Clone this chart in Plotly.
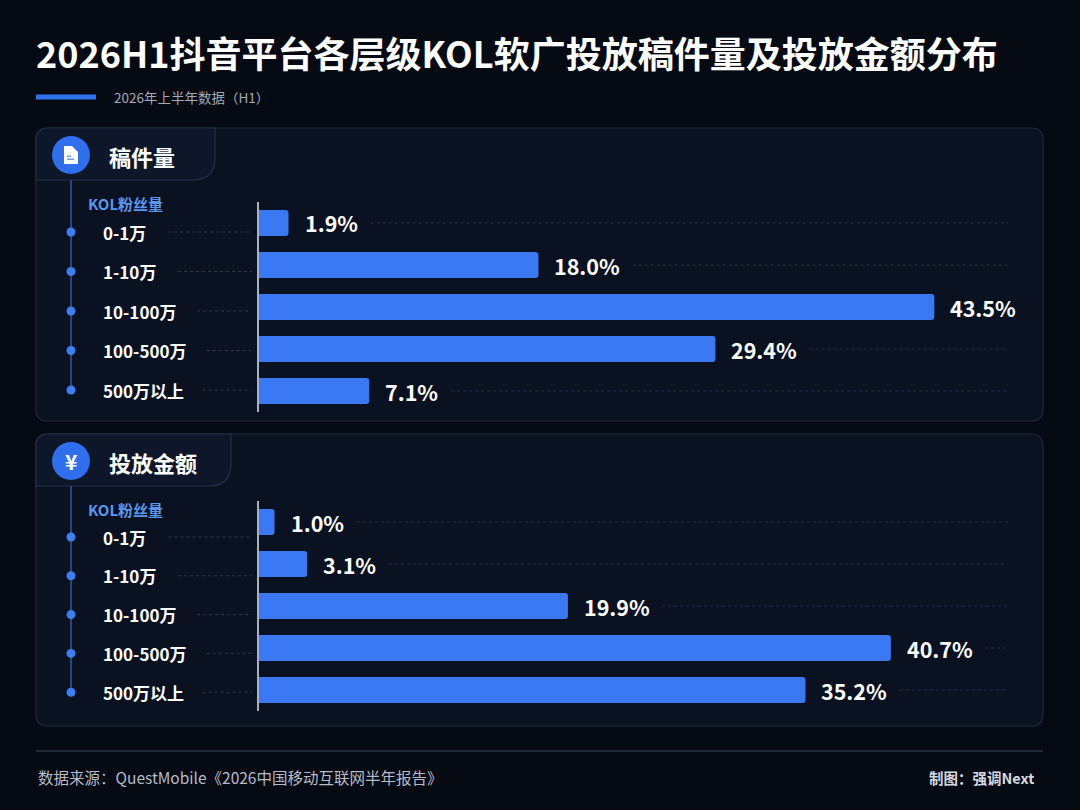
import plotly.graph_objects as go

# data
categories = ["0-1万", "1-10万", "10-100万", "100-500万", "500万以上"]
share_count = [1.9, 18.0, 43.5, 29.4, 7.1]      # 稿件量 %
share_amount = [1.0, 3.1, 19.9, 40.7, 35.2]     # 投放金额 %
panel_titles = ["稿件量", "投放金额"]
axis_title = "KOL粉丝量"
title = "2026H1抖音平台各层级KOL软广投放稿件量及投放金额分布"
subtitle = "2026年上半年数据（H1）"
source = "数据来源：QuestMobile《2026中国移动互联网半年报告》"
credit = "制图：强调Next"

W, H = 1080, 810
FONT = "Noto Sans CJK SC"
BG = "#060a12"
PANEL = "#0a1120"
TAB = "#0e1729"
BORDER = "#1f2b40"
BLUE = "#3a79f2"
XMAX = 50.5
BAR_X0 = 259   # px where bars start
BAR_X1 = 1043


def X(px):
    return px / W


def Y(py):
    return 1 - py / H


def text_w(s, f):
    return sum(f if ord(c) > 0x2e80 else 0.56 * f for c in s)


def rrect(x0, y0, x1, y1, r):
    rx, ry = r / W, r / H
    a, b, c, d = X(x0), Y(y0), X(x1), Y(y1)
    return (f"M{a + rx},{b} L{c - rx},{b} Q{c},{b} {c},{b - ry} "
            f"L{c},{d + ry} Q{c},{d} {c - rx},{d} L{a + rx},{d} "
            f"Q{a},{d} {a},{d + ry} L{a},{b - ry} Q{a},{b} {a + rx},{b} Z")


def tab_path(x0, y0, x1, y1, r, rb):
    a, b, c, d = X(x0), Y(y0), X(x1), Y(y1)
    return (f"M{a},{d} L{a},{b - r / H} Q{a},{b} {a + r / W},{b} L{c},{b} "
            f"L{c},{d + rb / H} Q{c},{d} {c - rb / W},{d} Z")


def label(text, x, y, size, color, xref="paper", yref="paper", xanchor="left", **kw):
    return dict(text=text, x=x, y=y, xref=xref, yref=yref, xanchor=xanchor, yanchor="middle",
                showarrow=False, font=dict(size=size, color=color, family=FONT), **kw)


fig = go.Figure()
shapes = []
annotations = []

# panels: top/bottom edge, tab right edge, first bar row centre + pitch,
# first label row centre + pitch (px)
panels = [
    dict(vals=share_count, top=128, bottom=421, tab_r=215, bar0=223, bar_step=42, lab0=232, lab_step=39.5),
    dict(vals=share_amount, top=434, bottom=726, tab_r=231, bar0=522, bar_step=42, lab0=537, lab_step=38.8),
]
n = len(categories)

for i, p in enumerate(panels):
    sfx = "" if i == 0 else "2"
    xa, ya = "x" + sfx, "y" + sfx
    xs, ys = "x" + str(3 + i), "y" + str(3 + i)
    top, bottom = p["top"], p["bottom"]
    bar_dom = [Y(p["bar0"] + (n - 0.5) * p["bar_step"]), Y(p["bar0"] - 0.5 * p["bar_step"])]
    lab_dom = [Y(p["lab0"] + (n - 0.5) * p["lab_step"]), Y(p["lab0"] - 0.5 * p["lab_step"])]

    # panel background + tab
    shapes.append(dict(type="path", path=rrect(36, top, 1043, bottom, 12), xref="paper", yref="paper",
                       fillcolor=PANEL, line=dict(color=BORDER, width=1.2), layer="below"))
    shapes.append(dict(type="path", path=tab_path(36, top, p["tab_r"], top + 52, 12, 22), xref="paper",
                       yref="paper", fillcolor=TAB, line=dict(color="#243149", width=1.2), layer="below"))
    # icon circle
    cy = top + 27
    shapes.append(dict(type="circle", xref="paper", yref="paper", x0=X(52), x1=X(90), y0=Y(cy + 19),
                       y1=Y(cy - 19), fillcolor="#2f6fee", line=dict(width=0), layer="below"))
    if i == 0:
        doc = (f"M{X(64)},{Y(cy - 9)} L{X(72)},{Y(cy - 9)} L{X(78)},{Y(cy - 3)} L{X(78)},{Y(cy + 9)} "
               f"L{X(64)},{Y(cy + 9)} Z")
        shapes.append(dict(type="path", path=doc, xref="paper", yref="paper", fillcolor="white",
                           line=dict(width=0)))
        shapes.append(dict(type="rect", xref="paper", yref="paper", x0=X(67), x1=X(74), y0=Y(cy + 5),
                           y1=Y(cy + 3.5), fillcolor="#6fa0f5", line=dict(width=0)))
        shapes.append(dict(type="rect", xref="paper", yref="paper", x0=X(67), x1=X(71), y0=Y(cy + 2),
                           y1=Y(cy + 0.5), fillcolor="#6fa0f5", line=dict(width=0)))
    else:
        annotations.append(label("<b>¥</b>", X(71), Y(cy), 21, "white", xanchor="center"))
    annotations.append(label(f"<b>{panel_titles[i]}</b>", X(107), Y(cy + 1), 22, "white"))
    annotations.append(label(f"<b>{axis_title}</b>", X(86), Y(top + 75), 15, "#5a98ee"))

    # bars
    fig.add_trace(go.Bar(x=p["vals"], y=categories, orientation="h", xaxis=xa, yaxis=ya,
                         marker=dict(color=BLUE, cornerradius=3, line=dict(width=0)), width=0.62,
                         hoverinfo="x+y", showlegend=False))

    # timeline dots on the label rows
    fig.add_trace(go.Scatter(x=[71] * n, y=categories, xaxis=xs, yaxis=ys, mode="markers",
                             marker=dict(size=9, color="#3b7ff2"), cliponaxis=False,
                             hoverinfo="skip", showlegend=False))
    shapes.append(dict(type="line", xref=xs, yref="paper", x0=71, x1=71, y0=Y(top + 52),
                       y1=Y(p["lab0"] + (n - 1) * p["lab_step"]),
                       line=dict(color="#2d5aa8", width=1.5), layer="below"))

    pxper = (BAR_X1 - BAR_X0) / XMAX
    for j, (c, v) in enumerate(zip(categories, p["vals"])):
        # category label + leader to the axis
        annotations.append(label(f"<b>{c}</b>", 101, j, 17, "white", xref=xs, yref=ys))
        lx0 = 101 + text_w(c, 17) + 22
        shapes.append(dict(type="line", xref=xs, yref=ys, x0=lx0, x1=252, y0=j, y1=j,
                           line=dict(color="#2e3a4f", width=1, dash="dot"), layer="below"))
        # value label + trailing dotted line
        lab = f"{v:.1f}%"
        annotations.append(label(f"<b>{lab}</b>", v, j, 21.5, "white", xref=xa, yref=ya, xshift=14))
        rx0 = v + (14 + text_w(lab, 21.5) + 20) / pxper
        rx1 = (1008 - BAR_X0) / pxper
        if rx0 < rx1:
            shapes.append(dict(type="line", xref=xa, yref=ya, x0=rx0, x1=rx1, y0=j, y1=j,
                               line=dict(color="#243048", width=1, dash="dot"), layer="below"))

    fig.update_layout(**{
        "xaxis" + sfx: dict(domain=[X(BAR_X0), X(BAR_X1)], range=[0, XMAX], anchor=ya,
                            visible=False, fixedrange=True),
        "yaxis" + sfx: dict(domain=bar_dom, type="category", categoryarray=categories,
                            range=[n - 0.5, -0.5], anchor=xa, showticklabels=False,
                            ticks="", showgrid=False, zeroline=False, showline=True,
                            linecolor="#a9b1bf", linewidth=2, fixedrange=True),
        "xaxis" + str(3 + i): dict(domain=[0, X(BAR_X0)], range=[0, BAR_X0], anchor=ys, visible=False,
                                   fixedrange=True),
        "yaxis" + str(3 + i): dict(domain=lab_dom, type="category", categoryarray=categories,
                                   range=[n - 0.5, -0.5], anchor=xs, visible=False, fixedrange=True),
    })

# title block
annotations.append(label(f"<b>{title}</b>", X(34), Y(52), 36, "white"))
shapes.append(dict(type="rect", xref="paper", yref="paper", x0=X(36), x1=X(96), y0=Y(99.5), y1=Y(94.5),
                   fillcolor="#2f72f0", line=dict(width=0)))
annotations.append(label(subtitle, X(112), Y(97), 13.5, "#a3abb8"))

# footer
shapes.append(dict(type="line", xref="paper", yref="paper", x0=X(36), x1=X(1043), y0=Y(751), y1=Y(751),
                   line=dict(color="#2a3446", width=1.5)))
annotations.append(label(source, X(36), Y(777), 15.5, "#b5bcc8"))
annotations.append(label(f"<b>{credit}</b>", X(1036), Y(777), 14.5, "#d5dae2", xanchor="right"))

fig.update_layout(
    width=W, height=H,
    margin=dict(l=0, r=0, t=0, b=0),
    paper_bgcolor=BG, plot_bgcolor="rgba(0,0,0,0)",
    font=dict(family=FONT, color="white"),
    shapes=shapes, annotations=annotations,
)

fig.write_html("out.html", config={"displayModeBar": False},
               post_script="document.body.style.margin='0';document.body.style.background='#060a12';")
